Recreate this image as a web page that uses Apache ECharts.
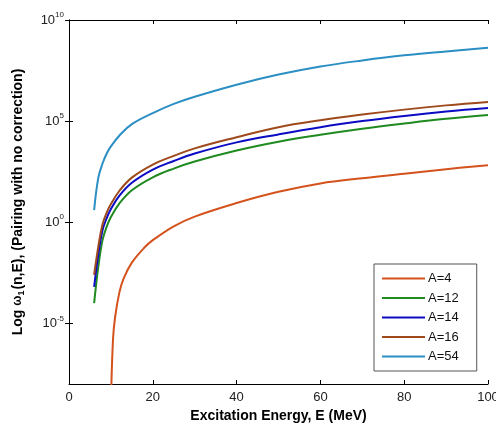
<!DOCTYPE html>
<html><head><meta charset="utf-8">
<script src="https://cdn.jsdelivr.net/npm/echarts@6/dist/echarts.min.js"></script>
<style>html,body{margin:0;padding:0;background:#fff}#c{width:496px;height:426px}</style>
</head><body><div id="c"></div>
<script>
// Excitation energies (MeV)
const energyMain = [6, 7, 8, 9, 10, 12, 15, 20, 25, 30, 40, 50, 60, 70, 80, 90, 100];
const energyA4 = [10, 10.5, 11, 12, 13, 15, 18, 20, 25, 30, 40, 50, 60, 70, 80, 90, 100];
// omega_1(n,E) values
const omegaA4  = [1e-9, 1.6e-6, 2.0e-5, 3.2e-4, 1.6e-3, 1.0e-2, 5.6e-2, 0.13, 0.63, 1.9, 8.9, 32, 83, 150, 250, 420, 660];
const omegaA12 = [1.0e-4, 6.3e-3, 0.13, 0.6, 1.8, 8.3, 38, 166, 450, 1.0e3, 3.5e3, 9.5e3, 2.1e4, 4.2e4, 7.6e4, 1.3e5, 2.0e5];
const omegaA14 = [6.3e-4, 2.5e-2, 0.40, 1.6, 4.5, 20, 89, 400, 1.07e3, 2.5e3, 8.9e3, 2.2e4, 5.0e4, 1.0e5, 1.8e5, 3.0e5, 4.5e5];
const omegaA16 = [2.5e-3, 6.3e-2, 0.79, 3.0, 7.9, 35, 160, 710, 1.9e3, 4.5e3, 1.6e4, 5.0e4, 1.1e5, 2.1e5, 3.7e5, 6.0e5, 8.9e5];
const omegaA54 = [4.0, 160, 8.0e2, 2.5e3, 5.6e3, 1.9e4, 7.1e4, 2.5e5, 7.1e5, 1.6e6, 6.3e6, 2.0e7, 5.0e7, 1.0e8, 1.8e8, 2.8e8, 4.2e8];
const seriesNames = ['A=4', 'A=12', 'A=14', 'A=16', 'A=54'];
const seriesColors = ['#d4521c', '#1f8a1f', '#0b0bc4', '#9e4a1c', '#2b8fc4'];
const yTickValues = [1e-5, 1, 1e5, 1e10];
const xTickValues = [0, 20, 40, 60, 80, 100];

const FONT = 'Liberation Sans, Arial, sans-serif';
function zip(xs, ys) { return xs.map((x, i) => [x, ys[i]]); }
const seriesData = [
  zip(energyA4, omegaA4), zip(energyMain, omegaA12), zip(energyMain, omegaA14),
  zip(energyMain, omegaA16), zip(energyMain, omegaA54)
];

const chart = echarts.init(document.getElementById('c'), null, {renderer: 'canvas'});
const axisLineStyle = {color: '#000', width: 1};
const option = {
  backgroundColor: '#fff',
  animation: false,
  grid: {left: 69, right: 8, top: 20, bottom: 42, containLabel: false, outerBoundsMode: 'none'},
  legend: {
    data: seriesNames,
    orient: 'vertical',
    left: 374, top: 264,
    padding: [8, 18, 8, 8],
    itemGap: 6.5,
    itemWidth: 43, itemHeight: 2,
    icon: 'rect',
    backgroundColor: '#fff',
    borderColor: '#555', borderWidth: 1,
    textStyle: {fontFamily: FONT, fontSize: 13, color: '#111', padding: [0, 0, 0, -2]}
  },
  xAxis: [{
    type: 'value', min: 0, max: 100, interval: 20,
    name: 'Excitation Energy, E (MeV)', nameLocation: 'middle', nameGap: 24,
    nameTextStyle: {fontFamily: FONT, fontSize: 14, fontWeight: 'bold', color: '#000'},
    axisLine: {lineStyle: axisLineStyle},
    axisTick: {inside: true, length: 4, lineStyle: axisLineStyle, customValues: xTickValues},
    axisLabel: {fontFamily: FONT, fontSize: 13, color: '#222', margin: 7, customValues: xTickValues},
    splitLine: {show: false}
  }, {
    type: 'value', min: 0, max: 100, interval: 20, position: 'top',
    axisLine: {lineStyle: axisLineStyle},
    axisTick: {inside: true, length: 4, lineStyle: axisLineStyle},
    axisLabel: {show: false}, splitLine: {show: false}
  }],
  yAxis: [{
    type: 'log', logBase: 10, min: 1e-8, max: 1e10,
    name: '{t|Log }{w|ω}{sub|1}{t|(n,E), (Pairing with no correction)}',
    nameLocation: 'middle', nameGap: 43, nameRotate: 90,
    nameTextStyle: {
      fontFamily: FONT, fontSize: 14, fontWeight: 'bold', color: '#000',
      rich: {
        t: {fontFamily: FONT, fontSize: 14, fontWeight: 'bold', color: '#000'},
        w: {fontFamily: FONT, fontSize: 12, fontWeight: 'bold', color: '#000'},
        sub: {fontFamily: FONT, fontSize: 9, fontWeight: 'bold', color: '#000', padding: [7, 1, 0, 0]}
      }
    },
    axisLine: {lineStyle: axisLineStyle},
    axisTick: {inside: true, length: 4, lineStyle: axisLineStyle, customValues: yTickValues},
    axisLabel: {
      customValues: yTickValues, margin: 5,
      formatter: function (v) { const e = Math.round(Math.log10(v)); return '{b|10}{s|' + e + '}'; },
      rich: {
        b: {fontFamily: FONT, fontSize: 13, color: '#222'},
        s: {fontFamily: FONT, fontSize: 8, color: '#222', padding: [0, 0, 10, 0]}
      }
    },
    splitLine: {show: false}, minorTick: {show: false}
  }, {
    type: 'log', logBase: 10, min: 1e-8, max: 1e10, position: 'right',
    axisLine: {lineStyle: axisLineStyle},
    axisTick: {inside: true, length: 4, lineStyle: axisLineStyle, customValues: yTickValues},
    axisLabel: {show: false, customValues: yTickValues},
    splitLine: {show: false}
  }],
  series: seriesNames.map((n, i) => ({
    name: n, type: 'line', xAxisIndex: 0, yAxisIndex: 0,
    data: seriesData[i], showSymbol: false, smooth: 0.4,
    color: seriesColors[i],
    lineStyle: {width: 2, color: seriesColors[i]},
    clip: true
  }))
};
chart.setOption(option);
</script></body></html>
